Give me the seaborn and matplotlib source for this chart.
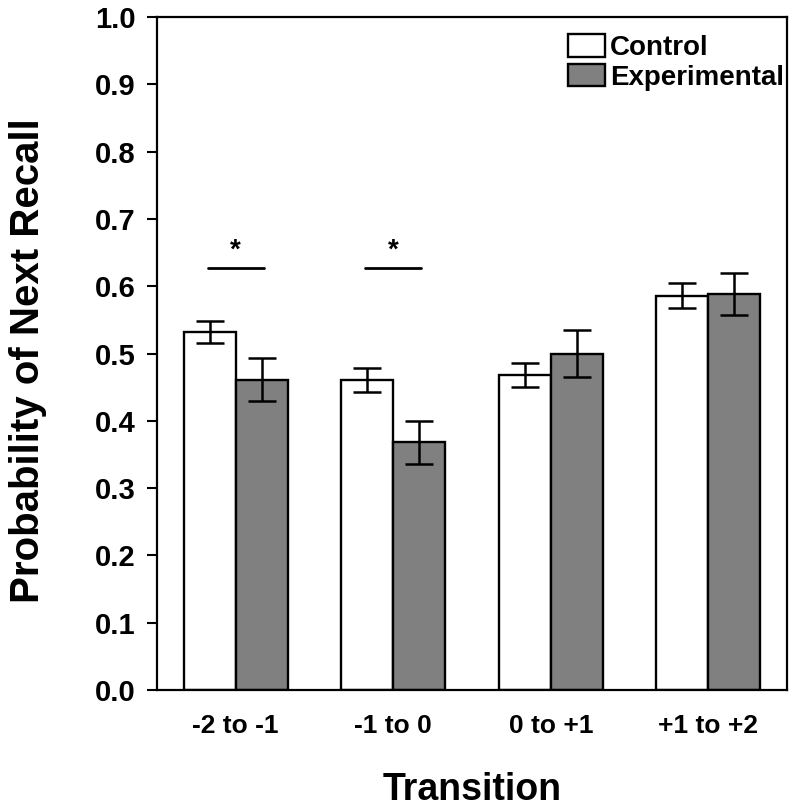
import matplotlib
matplotlib.use("Agg")
import matplotlib.pyplot as plt
from matplotlib.patches import Patch
import seaborn as sns
import pandas as pd
import numpy as np

# ---- data ----
transitions = ["-2 to -1", "-1 to 0", "0 to +1", "+1 to +2"]
groups = ["Control", "Experimental"]
control_mean = [0.532, 0.461, 0.468, 0.586]
experimental_mean = [0.461, 0.368, 0.500, 0.588]
control_sem = [0.016, 0.018, 0.018, 0.019]
experimental_sem = [0.032, 0.032, 0.035, 0.031]
sig_transitions = ["-2 to -1", "-1 to 0"]
sig_height = 0.627
y_ticks = [0.0, 0.1, 0.2, 0.3, 0.4, 0.5, 0.6, 0.7, 0.8, 0.9, 1.0]

df = pd.DataFrame({
    "Transition": transitions * 2,
    "Group": [groups[0]] * 4 + [groups[1]] * 4,
    "Prob": control_mean + experimental_mean,
    "SEM": control_sem + experimental_sem,
})

sns.set_style("ticks")
plt.rcParams["font.family"] = ["Liberation Sans", "DejaVu Sans"]
plt.rcParams["font.weight"] = "bold"
plt.rcParams["text.color"] = "black"
plt.rcParams["axes.labelcolor"] = "black"
plt.rcParams["xtick.color"] = "black"
plt.rcParams["ytick.color"] = "black"

fig = plt.figure(figsize=(7.96, 8.09), dpi=100)
ax = fig.add_axes([0.197, 0.147, 0.792, 0.832])

palette = {"Control": "white", "Experimental": "#808080"}
sns.barplot(data=df, x="Transition", y="Prob", hue="Group", order=transitions,
            hue_order=groups, palette=palette, errorbar=None, width=0.66,
            edgecolor="black", linewidth=1.7, saturation=1, legend=False, ax=ax)

# error bars at bar centres
bars = ax.patches
n = len(transitions)
for gi, g in enumerate(groups):
    sub = df[df["Group"] == g].set_index("Transition").loc[transitions]
    xs = [bars[gi * n + i].get_x() + bars[gi * n + i].get_width() / 2 for i in range(n)]
    ax.errorbar(xs, sub["Prob"].values, yerr=sub["SEM"].values, fmt="none",
                ecolor="black", elinewidth=1.8, capsize=10, capthick=1.8, zorder=5)

# significance marks
for t in sig_transitions:
    xi = transitions.index(t)
    ax.plot([xi - 0.178, xi + 0.178], [sig_height, sig_height], color="black", lw=2)
    ax.text(xi, sig_height + 0.026, "*", ha="center", va="center",
            fontsize=20, fontweight="bold", color="black")

ax.set_ylim(0, 1.0)
ax.set_xlim(-0.5, 3.5)
ax.set_yticks(y_ticks)
ax.set_yticklabels([f"{v:.1f}" for v in y_ticks])
for s in ax.spines.values():
    s.set_visible(True)
    s.set_linewidth(1.6)
    s.set_color("black")
ax.tick_params(axis="y", direction="out", length=7, width=1.5, pad=8,
               labelsize=21, colors="black")
ax.tick_params(axis="x", length=0, pad=17, labelsize=19, colors="black")
for lab in ax.get_xticklabels() + ax.get_yticklabels():
    lab.set_fontweight("bold")

ax.set_ylabel("Probability of Next Recall", fontsize=29, fontweight="bold", color="black")
ax.yaxis.set_label_coords(-0.174, 0.49)
ax.set_xlabel("Transition", fontsize=27, fontweight="bold", color="black")
ax.xaxis.set_label_coords(0.5, -0.122)
ax.xaxis.label.set_va("top")

handles = [Patch(facecolor=palette[g], edgecolor="black", linewidth=1.7, label=g) for g in groups]
ax.legend(handles=handles, loc="upper right", bbox_to_anchor=(0.995, 0.974),
          frameon=False, borderpad=0, borderaxespad=0,
          handlelength=1.3, handleheight=0.85, handletextpad=0.2,
          labelspacing=0.1, prop={"weight": "bold", "size": 20})

fig.savefig("out.png", dpi=100)
